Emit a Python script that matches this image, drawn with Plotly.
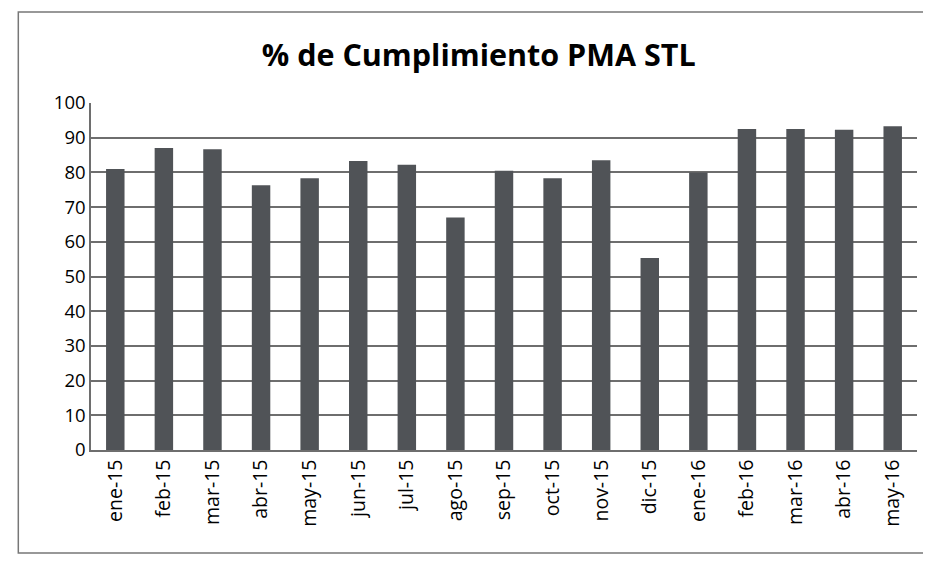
import plotly.graph_objects as go

months = ["ene-15", "feb-15", "mar-15", "abr-15", "may-15", "jun-15", "jul-15", "ago-15",
          "sep-15", "oct-15", "nov-15", "dic-15", "ene-16", "feb-16", "mar-16", "abr-16", "may-16"]
cumplimiento = [81, 87, 86.7, 76.3, 78.3, 83.3, 82.2, 67, 80.5, 78.3, 83.5, 55.3, 80, 92.5, 92.5, 92.3, 93.3]

fig = go.Figure(go.Bar(x=months, y=cumplimiento, marker=dict(color="#505357", line=dict(width=0))))

# the page body adds an 8px offset, so the figure is sized to fit after it
fig.update_layout(
    width=923, height=549,
    margin=dict(l=83, r=14, t=95, b=107),
    paper_bgcolor="white", plot_bgcolor="white",
    bargap=0.62,
    showlegend=False,
    title=dict(text="<b>% de Cumplimiento PMA STL</b>", x=0.510, xanchor="center", y=1 - 47 / 549, yanchor="middle",
               font=dict(family="Open Sans", size=30.5, color="black")),
    font=dict(family="Open Sans", size=18, color="black"),
)
fig.update_yaxes(range=[0, 100], tick0=0, dtick=10, showgrid=True, gridcolor="#6e6e6e", gridwidth=1.5,
                 showline=True, linecolor="#6e6e6e", linewidth=1.5, ticks="", ticklen=0,
                 tickfont=dict(size=18.5), zeroline=False)
fig.update_xaxes(tickangle=-90, showline=True, linecolor="#6e6e6e", linewidth=1.5, showgrid=False,
                 tickfont=dict(size=19.5), automargin=False)

# outer chart border
fig.add_shape(type="rect", xref="paper", yref="paper", x0=-0.088, x1=1.0125, y0=-0.297, y1=1.262,
              line=dict(color="#777777", width=1.5), fillcolor="rgba(0,0,0,0)")
fig.add_shape(type="line", xref="paper", yref="paper", x0=1.0125, x1=1.0125, y0=-0.297, y1=1.262,
              line=dict(color="#777777", width=1.5))

fig.write_html("out.html")
